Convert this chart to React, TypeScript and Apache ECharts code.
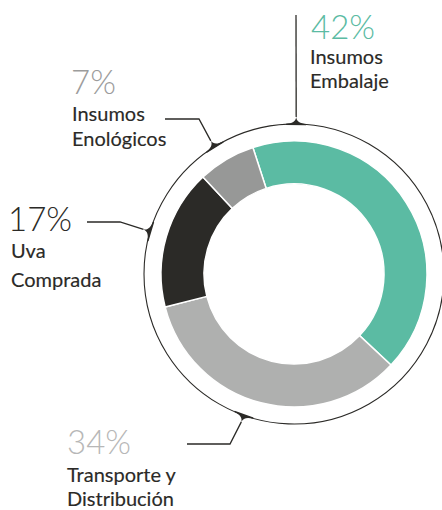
import React, { useEffect, useRef } from "react";
import * as echarts from "echarts";

// ---- data ----
const categories = ["Insumos Embalaje", "Transporte y Distribución", "Uva Comprada", "Insumos Enológicos"];
const values = [42, 34, 17, 7];
const labelLines = [
  ["Insumos", "Embalaje"],
  ["Transporte y", "Distribución"],
  ["Uva", "Comprada"],
  ["Insumos", "Enológicos"],
];
const sliceColors = ["#5bbba3", "#afb0af", "#2b2a27", "#979897"];
const percentColors = ["#5bbba3", "#b7b7b7", "#2b2a27", "#9c9c9c"];

// ---- layout ----
const CX = 294;
const CY = 274;
const RING_R = 150;
const SPIKE_H = 7;
const FONT = "Lato, 'Open Sans', sans-serif";
const INK = "#2b2a27";

const annotations = [
  { angle: 0.8, px: 311, py: 25.5, tx: 310, ty: [56, 80], leader: [[296, 15]] },
  { angle: 199.6, px: 67, py: 440.5, tx: 67, ty: [474, 498], leader: [[187, 444], [230, 444]] },
  { angle: 286.5, px: 8, py: 217.5, tx: 11, ty: [250, 278.5], leader: [[87, 222], [120, 222]] },
  { angle: 328, px: 71, py: 80.5, tx: 72, ty: [113, 137.5], leader: [[165, 119], [199, 119]] },
];

const spikePath = "M0,-7 C0.4,-2.5 4,-0.6 10,0 L10,1.2 L-10,1.2 L-10,0 C-4,-0.6 -0.4,-2.5 0,-7 Z";
echarts.graphic.registerShape("spike", echarts.graphic.extendPath(spikePath, {}));

export default function App() {
  const ref = useRef<HTMLDivElement>(null);
  useEffect(() => {
    document.body.style.margin = "0";
    if (!ref.current) return;
    const chart = echarts.init(ref.current, undefined, { renderer: "svg" });

    const graphics: any[] = [
      {
        type: "circle",
        shape: { cx: CX, cy: CY, r: RING_R },
        style: { fill: "none", stroke: INK, lineWidth: 1.1 },
        z: 1,
      },
    ];

    annotations.forEach((a, i) => {
      const rad = (a.angle * Math.PI) / 180;
      const bx = CX + RING_R * Math.sin(rad);
      const by = CY - RING_R * Math.cos(rad);
      const tipX = CX + (RING_R + SPIKE_H) * Math.sin(rad);
      const tipY = CY - (RING_R + SPIKE_H) * Math.cos(rad);
      graphics.push({
        type: "spike",
        x: bx,
        y: by,
        rotation: -rad,
        style: { fill: INK },
        z: 2,
      });
      graphics.push({
        type: "polyline",
        shape: { points: [...a.leader, [tipX, tipY]] },
        style: { stroke: INK, lineWidth: 1.3, fill: "none" },
        z: 2,
      });
      graphics.push({
        type: "text",
        x: a.px,
        y: a.py,
        style: {
          text: `${values[i]}%`,
          fill: percentColors[i],
          font: `300 33px ${FONT}`,
          lineHeight: 26,
          align: "left",
          verticalAlign: "middle",
        },
        z: 3,
      });
      labelLines[i].forEach((line, j) => {
        graphics.push({
          type: "text",
          x: a.tx,
          y: a.ty[j],
          style: {
            text: line,
            fill: INK,
            font: `400 20px ${FONT}`,
            lineHeight: 20,
            align: "left",
            verticalAlign: "middle",
            stroke: INK,
            lineWidth: 0.15,
          },
          z: 3,
        });
      });
    });

    chart.setOption({
      animation: false,
      series: [
        {
          type: "pie",
          center: [CX, CY],
          radius: [90, 133],
          startAngle: 108,
          clockwise: true,
          silent: true,
          label: { show: false },
          labelLine: { show: false },
          itemStyle: { borderColor: "#ffffff", borderWidth: 1.5 },
          data: categories.map((name, i) => ({
            name,
            value: values[i],
            itemStyle: { color: sliceColors[i] },
          })),
        },
      ],
      graphic: { elements: graphics },
    });
    return () => chart.dispose();
  }, []);
  return <div ref={ref} style={{ width: 442, height: 510 }} />;
}
